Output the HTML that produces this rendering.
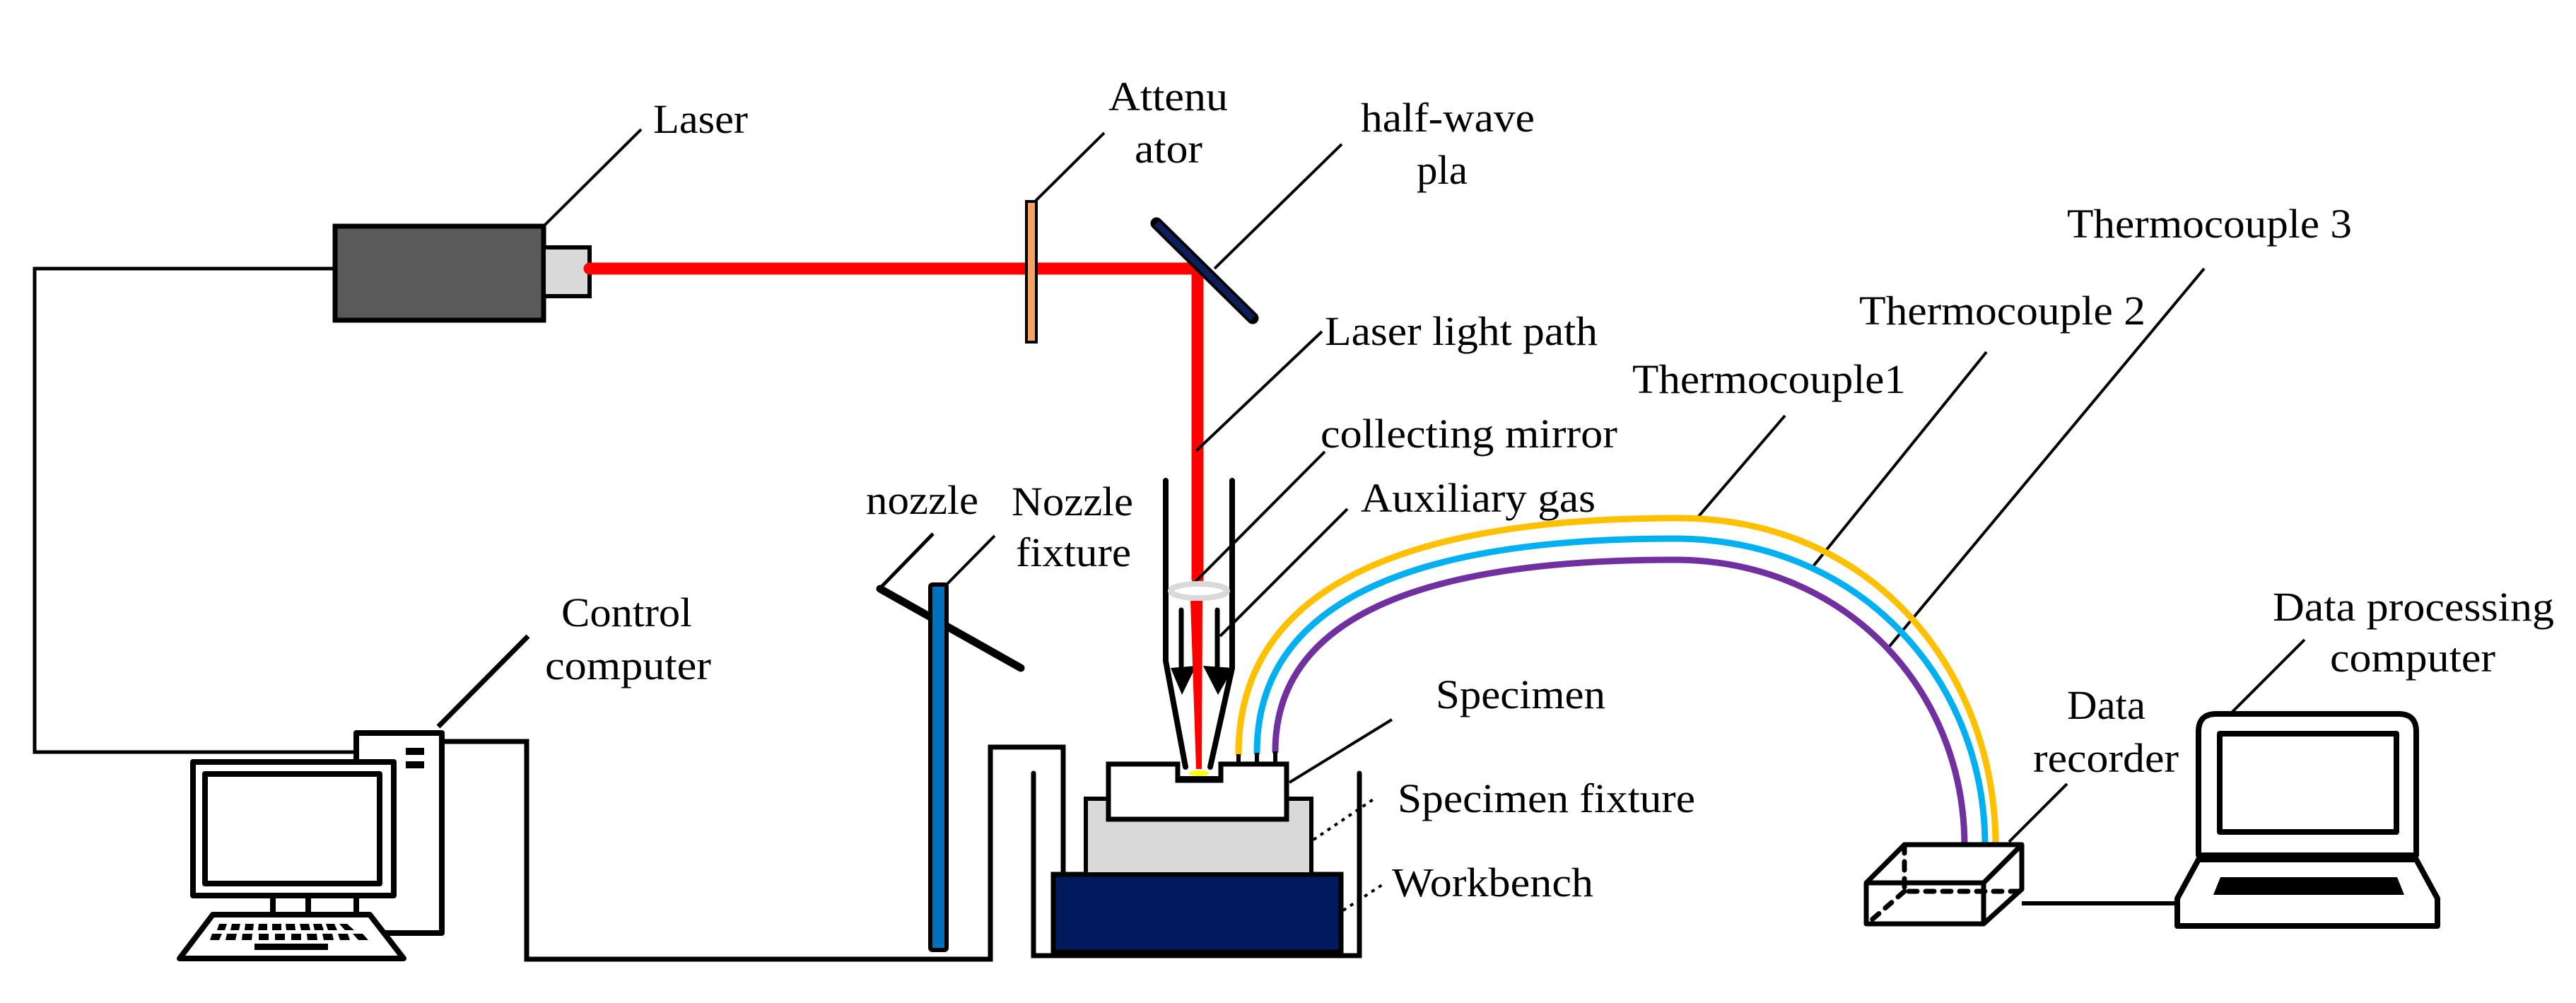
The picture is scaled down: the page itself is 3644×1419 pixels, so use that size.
<!DOCTYPE html>
<html><head><meta charset="utf-8"><style>
html,body{margin:0;padding:0;background:#fff;}
svg{display:block;}
text{font-family:"Liberation Serif",serif;font-size:58px;fill:#000;}
</style></head><body>
<svg width="3644" height="1419" viewBox="0 0 3644 1419" xmlns="http://www.w3.org/2000/svg">
<rect width="3644" height="1419" fill="#fff"/>
<g stroke="#000" stroke-linecap="round" fill="none">
<!-- left wire laser->computer -->
<path d="M474,380 L49,380 L49,1064 L500,1064" stroke-width="5"/>
<!-- tower -> nozzle fixture wire -->
<path d="M625,1049 L745,1049 L745,1357 L1401,1357 L1401,1057 L1504,1057 L1504,1237" stroke-width="7" stroke-linejoin="miter" stroke-linecap="butt"/>
<!-- container -->
<path d="M1462,1094 L1462,1352 L1923,1352 L1923,1094" stroke-width="7"/>
</g>
<!-- laser -->
<rect x="474" y="320" width="295" height="133" fill="#5a5a5a" stroke="#000" stroke-width="7"/>
<rect x="769" y="350" width="65" height="69" fill="#d9d9d9" stroke="#000" stroke-width="6"/>
<!-- beam -->
<path d="M834,380 L1694,380 L1694,819" stroke="#ff0000" stroke-width="17" fill="none" stroke-linecap="round" stroke-linejoin="round"/>
<!-- attenuator -->
<rect x="1452" y="285" width="14" height="199" fill="#f4a460" stroke="#000" stroke-width="4"/>
<!-- half-wave plate -->
<line x1="1636" y1="316" x2="1772" y2="450" stroke="#000" stroke-width="17" stroke-linecap="round"/>
<line x1="1636" y1="316" x2="1772" y2="450" stroke="#0c1f5a" stroke-width="9"/>
<!-- leaders -->
<g stroke="#000" stroke-width="4" fill="none">
<line x1="769" y1="320" x2="907" y2="183"/>
<line x1="1465" y1="284" x2="1562" y2="188"/>
<line x1="1718" y1="380" x2="1898" y2="204"/>
<line x1="1692" y1="638" x2="1870" y2="469"/>
<line x1="1686" y1="828" x2="1874" y2="639"/>
<line x1="1726" y1="900" x2="1906" y2="720"/>
<line x1="1247" y1="830" x2="1320" y2="755" stroke-width="5"/>
<line x1="1339" y1="827" x2="1407" y2="758"/>
<line x1="1824" y1="1107" x2="1969" y2="1018"/>
<line x1="2399" y1="735" x2="2525" y2="588"/>
<line x1="2561" y1="806" x2="2810" y2="498"/>
<line x1="2669" y1="919" x2="3118" y2="380"/>
<line x1="2842" y1="1191" x2="2924" y2="1109"/>
<line x1="3157" y1="1008" x2="3260" y2="905"/>
<line x1="620" y1="1028" x2="747" y2="900" stroke-width="7"/>
<line x1="1858" y1="1188" x2="1944" y2="1130" stroke-dasharray="5,7"/>
<line x1="1900" y1="1288" x2="1958" y2="1250" stroke-dasharray="5,7"/>
</g>
<!-- nozzle bar and fixture -->
<line x1="1245" y1="833" x2="1444" y2="945" stroke="#000" stroke-width="11" stroke-linecap="round"/>
<rect x="1316" y="827" width="23" height="517" rx="3" fill="#0070c0" stroke="#000" stroke-width="6"/>
<!-- workbench -->
<rect x="1490" y="1237" width="407" height="110" fill="#001a5e" stroke="#000" stroke-width="7"/>
<rect x="1536" y="1130" width="319" height="107" fill="#d9d9d9" stroke="#000" stroke-width="6"/>
<!-- specimen -->
<path d="M1568,1081 L1666,1081 L1666,1104 L1727,1104 L1727,1081 L1820,1081 L1820,1159 L1568,1159 Z" fill="#fff" stroke="#000" stroke-width="7"/>
<rect x="1666" y="1098" width="61" height="8" fill="#000"/>
<ellipse cx="1696" cy="1094" rx="14" ry="4" fill="#ffff00"/>
<!-- nozzle tube -->
<g stroke="#000" stroke-width="8" fill="none" stroke-linecap="round">
<path d="M1649,680 L1649,935 L1677,1085"/>
<path d="M1743,680 L1743,945 L1712,1085"/>
<line x1="1671" y1="863" x2="1671" y2="947" stroke-width="7"/>
<line x1="1722" y1="863" x2="1722" y2="947" stroke-width="7"/>
</g>
<polygon points="1656,945 1692,942 1672,983" fill="#000"/>
<polygon points="1702,942 1745,945 1723,983" fill="#000"/>
<ellipse cx="1696" cy="836" rx="40" ry="10" fill="none" stroke="#d9d9d9" stroke-width="8"/>
<polygon points="1684,850 1701,850 1700,1088 1692,1088" fill="#ff0000"/>
<!-- thermocouples -->
<g fill="none" stroke-width="9" stroke-linecap="round">
<path d="M1752,1067 C1752,850 1950,733 2374,733 C2650,733 2823,950 2823,1197" stroke="#ffc000"/>
<path d="M1778,1065 C1778,870 1960,762 2368,762 C2630,762 2808,960 2808,1197" stroke="#00b0f0"/>
<path d="M1804,1063 C1804,890 1975,792 2368,792 C2610,792 2779,975 2779,1197" stroke="#7030a0"/>
</g>
<g stroke="#000" stroke-width="6"><line x1="1752" y1="1067" x2="1752" y2="1080"/><line x1="1778" y1="1065" x2="1778" y2="1080"/><line x1="1804" y1="1063" x2="1804" y2="1080"/></g>
<!-- data recorder -->
<g stroke="#000" stroke-width="7" fill="none" stroke-linejoin="round">
<path d="M2640,1249 L2694,1195 L2860,1195 L2860,1258 L2806,1307 L2640,1307 Z" fill="#fff"/>
<path d="M2640,1249 L2806,1249 L2806,1307 M2806,1249 L2860,1195"/>
<path d="M2694,1195 L2694,1261 L2860,1261 M2694,1261 L2647,1302" stroke-dasharray="12,12" stroke-linecap="round"/>
<line x1="2860" y1="1278" x2="3080" y2="1278" stroke-width="6"/>
</g>
<!-- laptop -->
<g stroke="#000" stroke-width="8" fill="#fff" stroke-linejoin="round">
<path d="M3110,1210 L3110,1035 Q3110,1010 3135,1010 L3393,1010 Q3418,1010 3418,1035 L3418,1210 Z"/>
<rect x="3140" y="1038" width="250" height="139"/>
<path d="M3110,1216 L3418,1216 L3448,1271 L3448,1310 L3080,1310 L3080,1271 Z"/>
</g>
<polygon points="3141,1241 3391,1241 3401,1266 3131,1266" fill="#000"/>
<!-- desktop computer -->
<g stroke="#000" stroke-width="8" fill="#fff" stroke-linejoin="round">
<rect x="504" y="1037" width="121" height="283"/>
<rect x="273" y="1078" width="284" height="189"/>
<rect x="290" y="1095" width="247" height="155"/>
<path d="M386,1269 L386,1294 M436,1269 L436,1294 M504,1269 L504,1294" fill="none"/>
<path d="M301,1294 L523,1294 L571,1356 L254,1356 Z"/>
</g>
<rect x="574" y="1058" width="26" height="10" fill="#000"/>
<rect x="574" y="1077" width="26" height="10" fill="#000"/>
<g fill="#000">
<path d="M310,1307 h11 l-3,9 h-11z M328,1307 h12 l-2,9 h-12z M347,1307 h12 l-1,9 h-12z M366,1307 h12 v9 h-13z M385,1307 h13 v9 h-13z M404,1307 h13 l1,9 h-13z M424,1307 h13 l2,9 h-13z M443,1307 h12 l3,9 h-13z M461,1307 h12 l4,9 h-13z M480,1307 h11 l10,9 h-13z"/>
<path d="M300,1321 h14 l-4,9 h-13z M321,1321 h14 l-2,9 h-14z M343,1321 h14 l-1,9 h-14z M366,1321 h14 v9 h-14z M389,1321 h14 v9 h-14z M412,1321 h14 v9 h-14z M434,1321 h14 l1,9 h-14z M456,1321 h14 l2,9 h-14z M478,1321 h14 l3,9 h-14z M499,1321 h14 l8,9 h-14z"/>
<rect x="360" y="1335" width="104" height="9"/>
</g>
<!-- labels -->
<text x="924" y="188" textLength="134" lengthAdjust="spacingAndGlyphs">Laser</text>
<text x="1568" y="156" textLength="169" lengthAdjust="spacingAndGlyphs">Attenu</text>
<text x="1605" y="230" textLength="96" lengthAdjust="spacingAndGlyphs">ator</text>
<text x="1925" y="186" textLength="246" lengthAdjust="spacingAndGlyphs">half-wave</text>
<text x="2004" y="260" textLength="72" lengthAdjust="spacingAndGlyphs">pla</text>
<text x="1874" y="488" textLength="386" lengthAdjust="spacingAndGlyphs">Laser light path</text>
<text x="1868" y="633" textLength="420" lengthAdjust="spacingAndGlyphs">collecting mirror</text>
<text x="1925" y="724" textLength="332" lengthAdjust="spacingAndGlyphs">Auxiliary gas</text>
<text x="1225" y="727" textLength="159" lengthAdjust="spacingAndGlyphs">nozzle</text>
<text x="1431" y="729" textLength="172" lengthAdjust="spacingAndGlyphs">Nozzle</text>
<text x="1437" y="801" textLength="163" lengthAdjust="spacingAndGlyphs">fixture</text>
<text x="794" y="886" textLength="185" lengthAdjust="spacingAndGlyphs">Control</text>
<text x="771" y="961" textLength="235" lengthAdjust="spacingAndGlyphs">computer</text>
<text x="2031" y="1002" textLength="240" lengthAdjust="spacingAndGlyphs">Specimen</text>
<text x="1977" y="1149" textLength="421" lengthAdjust="spacingAndGlyphs">Specimen fixture</text>
<text x="1969" y="1268" textLength="285" lengthAdjust="spacingAndGlyphs">Workbench</text>
<text x="2309" y="556" textLength="387" lengthAdjust="spacingAndGlyphs">Thermocouple1</text>
<text x="2630" y="459" textLength="405" lengthAdjust="spacingAndGlyphs">Thermocouple 2</text>
<text x="2924" y="336" textLength="403" lengthAdjust="spacingAndGlyphs">Thermocouple 3</text>
<text x="2924" y="1017" textLength="111" lengthAdjust="spacingAndGlyphs">Data</text>
<text x="2876" y="1092" textLength="206" lengthAdjust="spacingAndGlyphs">recorder</text>
<text x="3215" y="878" textLength="398" lengthAdjust="spacingAndGlyphs">Data processing</text>
<text x="3296" y="950" textLength="234" lengthAdjust="spacingAndGlyphs">computer</text>
</svg>
</body></html>
